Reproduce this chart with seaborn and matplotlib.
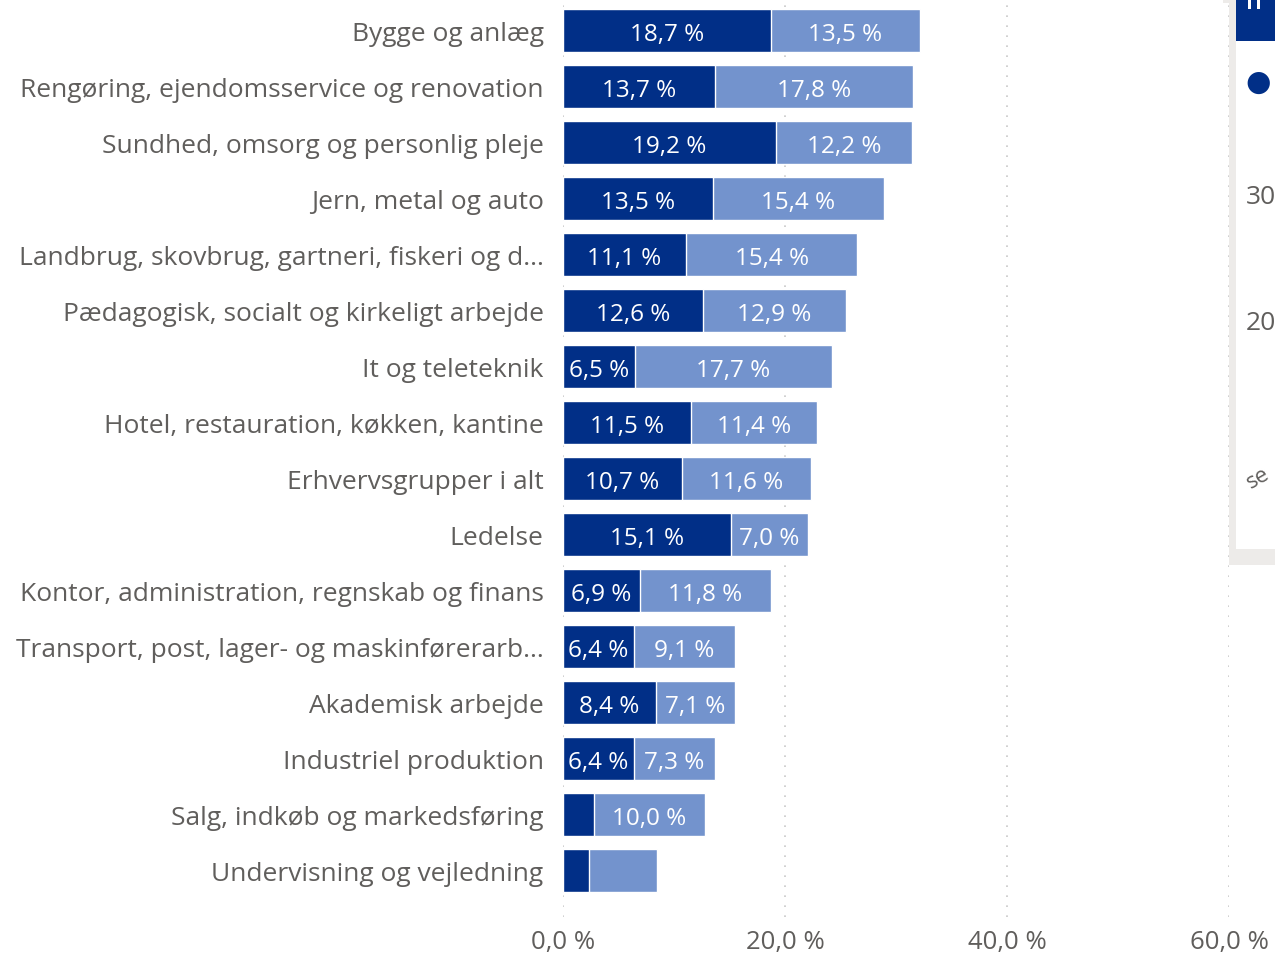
import matplotlib
matplotlib.use("Agg")
import matplotlib.pyplot as plt
from matplotlib.patches import Rectangle
import seaborn as sns
import pandas as pd

categories = [
    "Bygge og anlæg",
    "Rengøring, ejendomsservice og renovation",
    "Sundhed, omsorg og personlig pleje",
    "Jern, metal og auto",
    "Landbrug, skovbrug, gartneri, fiskeri og d...",
    "Pædagogisk, socialt og kirkeligt arbejde",
    "It og teleteknik",
    "Hotel, restauration, køkken, kantine",
    "Erhvervsgrupper i alt",
    "Ledelse",
    "Kontor, administration, regnskab og finans",
    "Transport, post, lager- og maskinførerarb...",
    "Akademisk arbejde",
    "Industriel produktion",
    "Salg, indkøb og markedsføring",
    "Undervisning og vejledning",
]
dark_vals = [18.7, 13.7, 19.2, 13.5, 11.1, 12.6, 6.5, 11.5, 10.7, 15.1, 6.9, 6.4, 8.4, 6.4, 2.8, 2.3]
light_vals = [13.5, 17.8, 12.2, 15.4, 15.4, 12.9, 17.7, 11.4, 11.6, 7.0, 11.8, 9.1, 7.1, 7.3, 10.0, 6.2]
show_dark_label = [True] * 14 + [False, False]
show_light_label = [True] * 15 + [False]
x_ticks = [0, 20, 40, 60]
x_tick_labels = ["0,0 %", "20,0 %", "40,0 %", "60,0 %"]

DARK = "#012F87"
LIGHT = "#7393CD"
GREY = "#605E5C"

sns.set_theme(style="white")
plt.rcParams["font.family"] = ["Open Sans", "DejaVu Sans"]

df = pd.DataFrame({"cat": categories, "dark": dark_vals, "light": light_vals})
df["total"] = df["dark"] + df["light"]

W, H = 1275, 954
fig = plt.figure(figsize=(W / 100, H / 100), dpi=100)
ax = fig.add_axes([563 / W, 1 - 918 / H, (1229 - 563) / W, (918 - 3.5) / H])

sns.barplot(data=df, y="cat", x="total", color=LIGHT, orient="h", width=0.77,
            saturation=1, ax=ax, order=categories)
sns.barplot(data=df, y="cat", x="dark", color=DARK, orient="h", width=0.77,
            saturation=1, ax=ax, order=categories)

ax.set_xlim(0, 60)
ax.set_ylim(15.83, -0.5)
ax.set_xlabel("")
ax.set_ylabel("")
for s in ax.spines.values():
    s.set_visible(False)
ax.set_xticks(x_ticks)
ax.set_xticklabels(x_tick_labels)
ax.tick_params(axis="x", length=0, labelsize=18.5, labelcolor=GREY, pad=9)
ax.tick_params(axis="y", length=0, labelsize=19, labelcolor=GREY, pad=14)
ax.xaxis.grid(True, linestyle=(0, (1, 5)), color="#C8C8C8", linewidth=1.2)
ax.set_axisbelow(True)

def fmt(v):
    return f"{v:.1f}".replace(".", ",") + " %"

for i, (d, l) in enumerate(zip(dark_vals, light_vals)):
    if show_dark_label[i]:
        ax.text(d / 2, i + 0.07, fmt(d), ha="center", va="center", color="white", fontsize=17.5)
    if show_light_label[i]:
        ax.text(d + l / 2, i + 0.07, fmt(l), ha="center", va="center", color="white", fontsize=17.5)

# cropped neighbouring visual on the right edge
def fx(x):
    return x / W

def fy(y):
    return 1 - y / H

fig.add_artist(Rectangle((fx(1223), fy(566)), fx(60), 566 / H, transform=fig.transFigure,
                         facecolor="#EDEBE9", edgecolor="none", zorder=0))
fig.add_artist(Rectangle((fx(1236), fy(550)), fx(45), 550 / H, transform=fig.transFigure,
                         facecolor="white", edgecolor="none", zorder=1))
fig.add_artist(Rectangle((fx(1236), fy(42)), fx(45), 42 / H, transform=fig.transFigure,
                         facecolor=DARK, edgecolor="none", zorder=2))
fig.add_artist(Rectangle((fx(1248), fy(10)), fx(3), 10 / H, transform=fig.transFigure,
                         facecolor="white", edgecolor="none", zorder=3))
fig.add_artist(Rectangle((fx(1257), fy(10)), fx(3), 10 / H, transform=fig.transFigure,
                         facecolor="white", edgecolor="none", zorder=3))
fig.text(fx(1258), fy(83), "●", color=DARK, fontsize=21, ha="center", va="center", zorder=3)
fig.text(fx(1246), fy(197), "30", color=GREY, fontsize=19, ha="left", va="center", zorder=3)
fig.text(fx(1246), fy(324), "20", color=GREY, fontsize=19, ha="left", va="center", zorder=3)
fig.text(fx(1243), fy(478), "se", color=GREY, fontsize=16, ha="left", va="center",
         rotation=30, zorder=3)

fig.savefig("out.png", dpi=100, facecolor="white")
